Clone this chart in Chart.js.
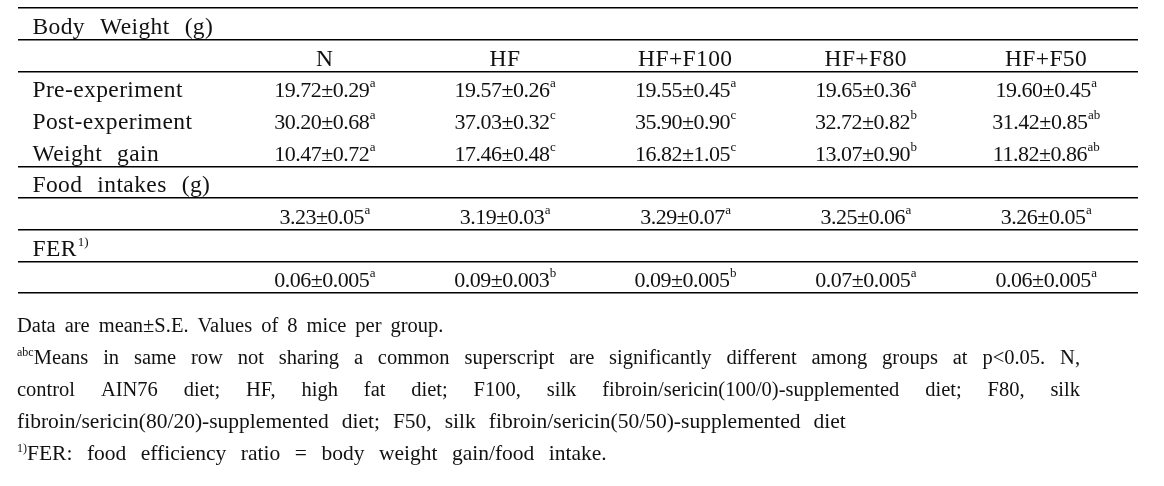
<!DOCTYPE html>
<html><head><meta charset="utf-8">
<script src="https://cdn.jsdelivr.net/npm/chart.js@4/dist/chart.umd.min.js"></script>
<style>html,body{margin:0;padding:0;background:#fff}#wrap{width:1164px;height:486px;position:relative}</style>
</head><body><div id="wrap"><canvas id="c"></canvas></div>
<script>
// ---- data ----
const groups = ['N', 'HF', 'HF+F100', 'HF+F80', 'HF+F50'];
const sectionTitles = ['Body Weight (g)', 'Food intakes (g)', 'FER'];
const sectionSups = ['', '', '1)'];
const weightRows = ['Pre-experiment', 'Post-experiment', 'Weight gain'];
const preMean = [19.72, 19.57, 19.55, 19.65, 19.60];
const preSE = [0.29, 0.26, 0.45, 0.36, 0.45];
const preSup = ['a', 'a', 'a', 'a', 'a'];
const postMean = [30.20, 37.03, 35.90, 32.72, 31.42];
const postSE = [0.68, 0.32, 0.90, 0.82, 0.85];
const postSup = ['a', 'c', 'c', 'b', 'ab'];
const gainMean = [10.47, 17.46, 16.82, 13.07, 11.82];
const gainSE = [0.72, 0.48, 1.05, 0.90, 0.86];
const gainSup = ['a', 'c', 'c', 'b', 'ab'];
const foodMean = [3.23, 3.19, 3.29, 3.25, 3.26];
const foodSE = [0.05, 0.03, 0.07, 0.06, 0.05];
const foodSup = ['a', 'a', 'a', 'a', 'a'];
const ferMean = [0.06, 0.09, 0.09, 0.07, 0.06];
const ferSE = [0.005, 0.003, 0.005, 0.005, 0.005];
const ferSup = ['a', 'b', 'b', 'a', 'a'];
const ruleLines = [-0.5, 0.5, 1.5, 4.5, 5.5, 6.5, 7.5, 8.5];
const footnotes = [
  { sup: '', text: 'Data are mean±S.E. Values of 8 mice per group.', justify: false, size: 20.5, gap: 9 },
  { sup: 'abc', text: 'Means in same row not sharing a common superscript are significantly different among groups at p<0.05. N,', justify: true, size: 20.5 },
  { sup: '', text: 'control AIN76 diet; HF, high fat diet; F100, silk fibroin/sericin(100/0)-supplemented diet; F80, silk', justify: true, size: 20.5 },
  { sup: '', text: 'fibroin/sericin(80/20)-supplemented diet; F50, silk fibroin/sericin(50/50)-supplemented diet', justify: false, size: 21.5, gap: 13 },
  { sup: '1)', text: 'FER: food efficiency ratio = body weight gain/food intake.', justify: false, size: 21.5, gap: 14.5 }
];

// ---- table structure ----
const LABEL_COL = -1.62;
const labelRows = [0, 2, 3, 4, 5, 7];
const labelTexts = [sectionTitles[0], weightRows[0], weightRows[1], weightRows[2], sectionTitles[1], sectionTitles[2]];
const labelSups = [sectionSups[0], '', '', '', sectionSups[1], sectionSups[2]];

function valueSet(label, row, mean, se, sup, dm, dse) {
  return { label, kind: 'value', data: mean.map((m, i) => ({ x: i, y: row })), mean, se, sup, dm, dse, pointRadius: 0, pointHoverRadius: 0 };
}

const datasets = [
  { label: 'labels', kind: 'label', data: labelRows.map(r => ({ x: LABEL_COL, y: r })), texts: labelTexts, sups: labelSups, pointRadius: 0, pointHoverRadius: 0 },
  { label: 'groups', kind: 'header', data: groups.map((g, i) => ({ x: i, y: 1 })), texts: groups, pointRadius: 0, pointHoverRadius: 0 },
  valueSet('pre', 2, preMean, preSE, preSup, 2, 2),
  valueSet('post', 3, postMean, postSE, postSup, 2, 2),
  valueSet('gain', 4, gainMean, gainSE, gainSup, 2, 2),
  valueSet('food', 6, foodMean, foodSE, foodSup, 2, 2),
  valueSet('fer', 8, ferMean, ferSE, ferSup, 2, 3)
];

const SERIF = '"Liberation Serif", "Times New Roman", serif';
function drawWords(ctx, text, x, y, gap) {
  const words = text.split(' ');
  words.forEach(w => { ctx.fillText(w, x, y); x += ctx.measureText(w).width + gap; });
  return x - gap;
}

const tablePlugin = {
  id: 'tableText',
  afterDatasetsDraw(chart) {
    const ctx = chart.ctx;
    ctx.save();
    ctx.fillStyle = '#111';
    ctx.textBaseline = 'alphabetic';
    ctx.textAlign = 'left';
    chart.data.datasets.forEach((ds, di) => {
      const meta = chart.getDatasetMeta(di);
      meta.data.forEach((el, i) => {
        const x = el.x, y = el.y + 10;
        if (ds.kind === 'value') {
          ctx.letterSpacing = '-0.5px';
          ctx.font = '22px ' + SERIF;
          const main = ds.mean[i].toFixed(ds.dm) + '±' + ds.se[i].toFixed(ds.dse);
          const mw = ctx.measureText(main).width;
          ctx.letterSpacing = '0px';
          ctx.font = '13px ' + SERIF;
          const sw = ctx.measureText(ds.sup[i]).width;
          const x0 = x - (mw + sw) / 2;
          ctx.letterSpacing = '-0.5px';
          ctx.font = '22px ' + SERIF;
          ctx.fillText(main, x0, y);
          ctx.letterSpacing = '0px';
          ctx.font = '13px ' + SERIF;
          ctx.fillText(ds.sup[i], x0 + mw + 0.5, y - 10);
        } else if (ds.kind === 'header') {
          ctx.letterSpacing = '0.4px';
          ctx.font = '23.5px ' + SERIF;
          const w = ctx.measureText(ds.texts[i]).width;
          ctx.fillText(ds.texts[i], x - w / 2, y);
        } else if (ds.kind === 'label') {
          ctx.letterSpacing = '0.4px';
          ctx.font = '23.5px ' + SERIF;
          const end = drawWords(ctx, ds.texts[i], x, y, 15);
          if (ds.sups[i]) {
            ctx.letterSpacing = '0px';
            ctx.font = '13px ' + SERIF;
            ctx.fillText(ds.sups[i], end + 1, y - 10);
          }
        }
      });
    });
    // footnotes
    ctx.letterSpacing = '0px';
    const ca = chart.chartArea;
    const left = ca.left - 1, right = ca.right - 58;
    footnotes.forEach((fn, k) => {
      const y = ca.bottom + 39 + 32 * k;
      let x = left;
      if (fn.sup) {
        ctx.font = '12px ' + SERIF;
        ctx.fillText(fn.sup, x, y - 8);
        x += ctx.measureText(fn.sup).width;
      }
      ctx.font = fn.size + 'px ' + SERIF;
      if (fn.justify) {
        const words = fn.text.split(' ');
        const tw = words.reduce((s, w) => s + ctx.measureText(w).width, 0);
        const gap = (right - x - tw) / (words.length - 1);
        drawWords(ctx, fn.text, x, y, gap);
      } else {
        drawWords(ctx, fn.text, x, y, fn.gap);
      }
    });
    ctx.restore();
  }
};

new Chart(document.getElementById('c'), {
  type: 'scatter',
  data: { datasets },
  options: {
    responsive: true,
    maintainAspectRatio: false,
    animation: false,
    events: [],
    layout: { padding: { left: 18, right: 26, top: 8, bottom: 193 } },
    plugins: { legend: { display: false }, tooltip: { enabled: false } },
    scales: {
      x: { type: 'linear', min: -1.7, max: 4.51, display: false },
      y: {
        type: 'linear', reverse: true, min: -0.5, max: 8.5,
        afterBuildTicks: s => { s.ticks = ruleLines.map(v => ({ value: v })); },
        grid: { color: '#000', lineWidth: 1.5, drawTicks: false, tickLength: 0 },
        border: { display: false },
        ticks: { display: false }
      }
    }
  },
  plugins: [tablePlugin]
});
</script>
</body></html>
